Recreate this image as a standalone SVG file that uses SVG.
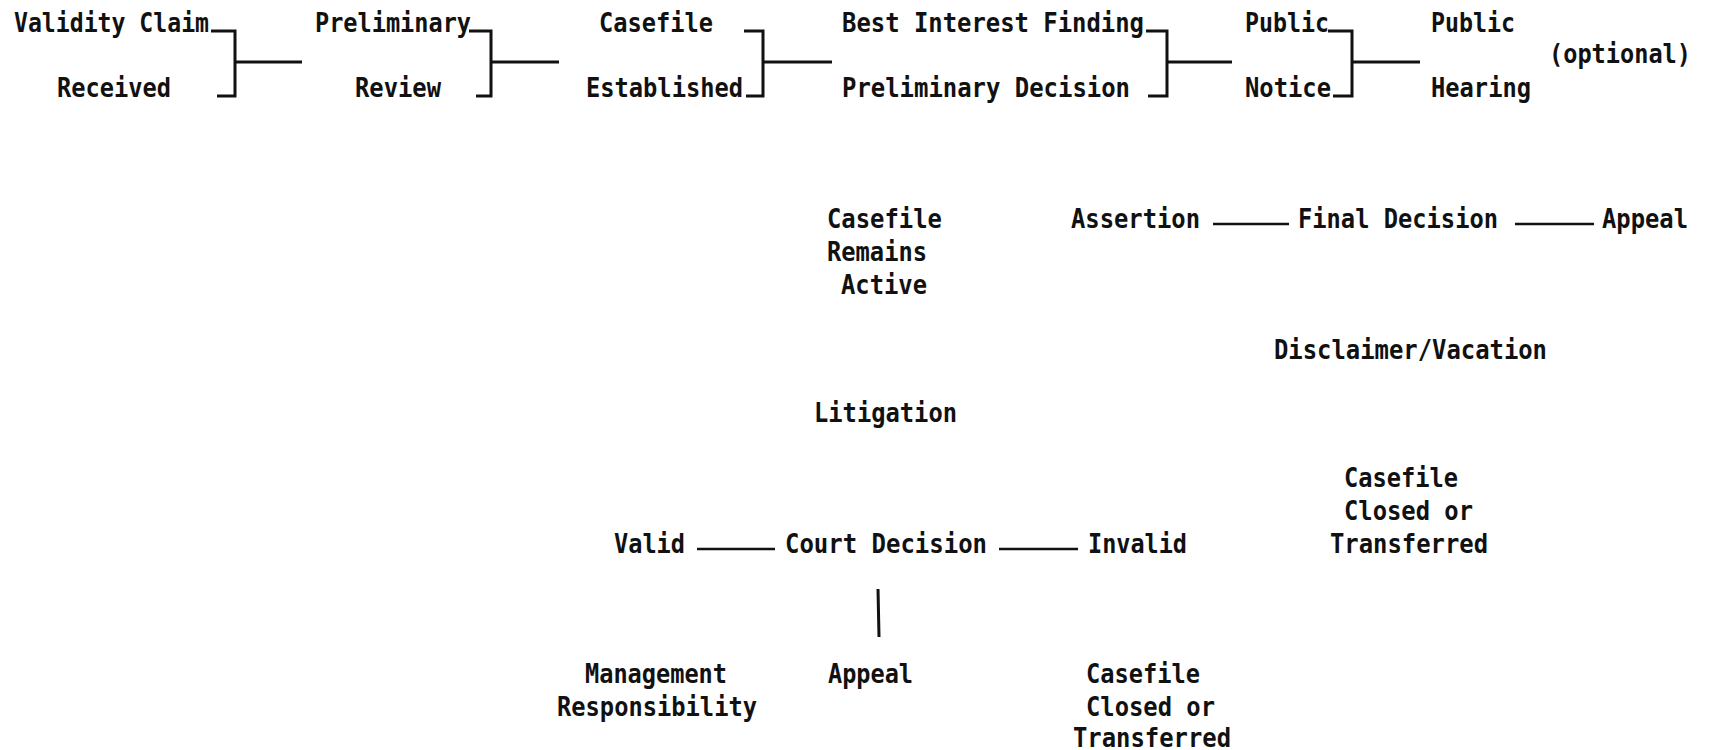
<svg xmlns="http://www.w3.org/2000/svg" width="1710" height="750" viewBox="0 0 1710 750">
<style>
text{font-family:"DejaVu Sans Mono","Liberation Mono",monospace;font-size:26px;font-weight:bold;fill:#111;}
.c{stroke:#111;stroke-width:3;fill:none;stroke-linecap:butt;}
.t{stroke:#111;stroke-width:2.5;fill:none;}
</style>
<rect width="1710" height="750" fill="#fff"/>
<g id="validity-claim"><text x="14" y="32" textLength="195" lengthAdjust="spacingAndGlyphs">Validity Claim</text><text x="57" y="97" textLength="114" lengthAdjust="spacingAndGlyphs">Received</text></g>
<g id="preliminary-review"><text x="315" y="32" textLength="156" lengthAdjust="spacingAndGlyphs">Preliminary</text><text x="355" y="97" textLength="86" lengthAdjust="spacingAndGlyphs">Review</text></g>
<g id="casefile-established"><text x="599" y="32" textLength="114" lengthAdjust="spacingAndGlyphs">Casefile</text><text x="586" y="97" textLength="157" lengthAdjust="spacingAndGlyphs">Established</text></g>
<g id="best-interest"><text x="842" y="32" textLength="302" lengthAdjust="spacingAndGlyphs">Best Interest Finding</text><text x="842" y="97" textLength="288" lengthAdjust="spacingAndGlyphs">Preliminary Decision</text></g>
<g id="public-notice"><text x="1245" y="32" textLength="84" lengthAdjust="spacingAndGlyphs">Public</text><text x="1245" y="97" textLength="86" lengthAdjust="spacingAndGlyphs">Notice</text></g>
<g id="public-hearing"><text x="1431" y="32" textLength="84" lengthAdjust="spacingAndGlyphs">Public</text><text x="1431" y="97" textLength="100" lengthAdjust="spacingAndGlyphs">Hearing</text><text x="1549" y="63" textLength="142" lengthAdjust="spacingAndGlyphs">(optional)</text></g>
<g id="casefile-active"><text x="827" y="228" textLength="115" lengthAdjust="spacingAndGlyphs">Casefile</text><text x="827" y="261" textLength="100" lengthAdjust="spacingAndGlyphs">Remains</text><text x="841" y="294" textLength="86" lengthAdjust="spacingAndGlyphs">Active</text></g>
<g id="assertion"><text x="1071" y="228" textLength="129" lengthAdjust="spacingAndGlyphs">Assertion</text></g>
<g id="final-decision"><text x="1298" y="228" textLength="200" lengthAdjust="spacingAndGlyphs">Final Decision</text></g>
<g id="appeal-final"><text x="1602" y="228" textLength="86" lengthAdjust="spacingAndGlyphs">Appeal</text></g>
<g id="disclaimer"><text x="1274" y="359" textLength="273" lengthAdjust="spacingAndGlyphs">Disclaimer/Vacation</text></g>
<g id="litigation"><text x="814" y="422" textLength="143" lengthAdjust="spacingAndGlyphs">Litigation</text></g>
<g id="casefile-closed-right"><text x="1344" y="487" textLength="114" lengthAdjust="spacingAndGlyphs">Casefile</text><text x="1344" y="520" textLength="129" lengthAdjust="spacingAndGlyphs">Closed or</text><text x="1330" y="553" textLength="158" lengthAdjust="spacingAndGlyphs">Transferred</text></g>
<g id="valid"><text x="614" y="553" textLength="71" lengthAdjust="spacingAndGlyphs">Valid</text></g>
<g id="court-decision"><text x="785" y="553" textLength="202" lengthAdjust="spacingAndGlyphs">Court Decision</text></g>
<g id="invalid"><text x="1088" y="553" textLength="99" lengthAdjust="spacingAndGlyphs">Invalid</text></g>
<g id="management"><text x="585" y="683" textLength="142" lengthAdjust="spacingAndGlyphs">Management</text><text x="557" y="716" textLength="200" lengthAdjust="spacingAndGlyphs">Responsibility</text></g>
<g id="appeal-court"><text x="828" y="683" textLength="85" lengthAdjust="spacingAndGlyphs">Appeal</text></g>
<g id="casefile-closed-bottom"><text x="1086" y="683" textLength="114" lengthAdjust="spacingAndGlyphs">Casefile</text><text x="1086" y="716" textLength="129" lengthAdjust="spacingAndGlyphs">Closed or</text><text x="1073" y="747" textLength="158" lengthAdjust="spacingAndGlyphs">Transferred</text></g>
<g id="connectors">
<path class="c" d="M211 31H235V96H217M235 62H302"/>
<path class="c" d="M469 31H491V96H476M491 62H559"/>
<path class="c" d="M744 31H763V96H746M763 62H832"/>
<path class="c" d="M1146 31H1167V96H1148M1167 62H1232"/>
<path class="c" d="M1328 31H1352V96H1333M1352 62H1420"/>
<path class="t" d="M1213 224H1289"/>
<path class="t" d="M1515 224H1594"/>
<path class="t" d="M697 549H775"/>
<path class="t" d="M999 549H1078"/>
<path class="c" d="M878 589L879 637"/>
</g>
</svg>
